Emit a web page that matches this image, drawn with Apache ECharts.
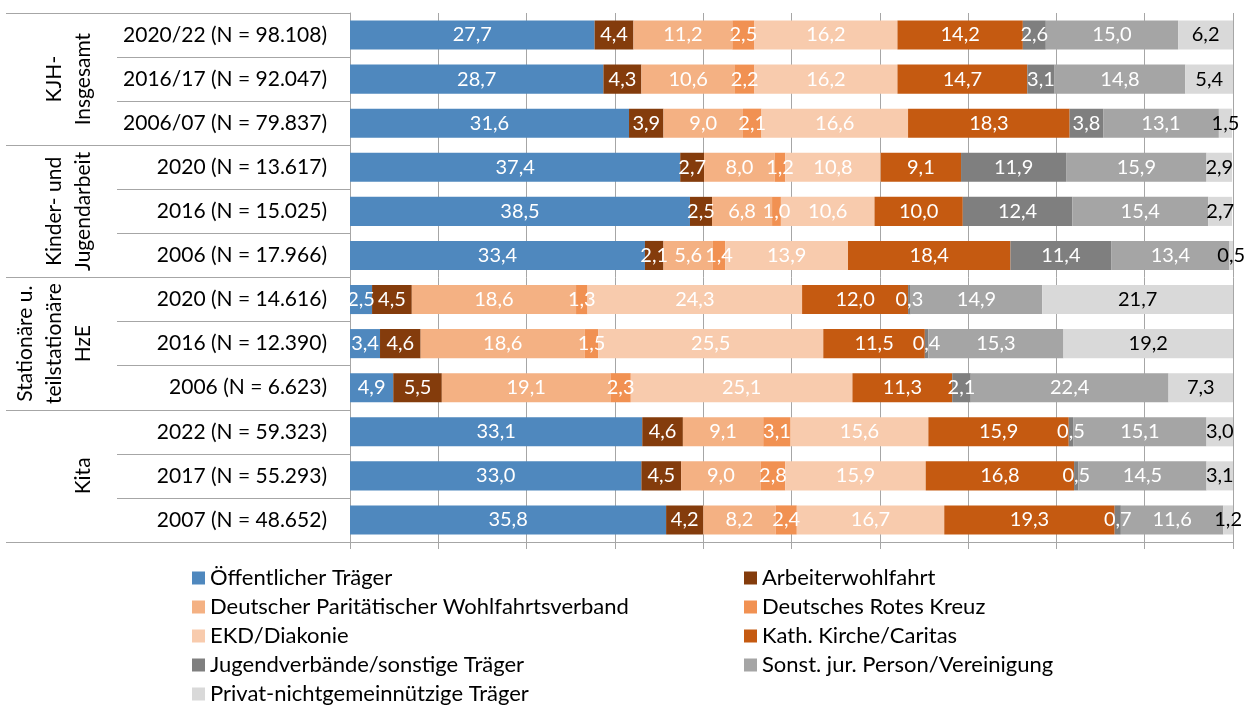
<!DOCTYPE html>
<html>
<head>
<meta charset="utf-8">
<script src="https://cdn.jsdelivr.net/npm/echarts@6/dist/echarts.min.js"></script>
<style>
  html, body { margin: 0; padding: 0; background: #fff; }
  #chart { width: 1251px; height: 711px; }
</style>
</head>
<body>
<div id="chart"></div>
<script>
// rows, top to bottom
const rowLabels = [
  "2020/22 (N = 98.108)", "2016/17 (N = 92.047)", "2006/07 (N = 79.837)",
  "2020 (N = 13.617)", "2016 (N = 15.025)", "2006 (N = 17.966)",
  "2020 (N = 14.616)", "2016 (N = 12.390)", "2006 (N = 6.623)",
  "2022 (N = 59.323)", "2017 (N = 55.293)", "2007 (N = 48.652)"
];
const groupLabels = ["KJH-\nInsgesamt", "Kinder- und\nJugendarbeit", "Stationäre u.\nteilstationäre\nHzE", "Kita"];

const seriesNames = [
  "Öffentlicher Träger", "Arbeiterwohlfahrt", "Deutscher Paritätischer Wohlfahrtsverband",
  "Deutsches Rotes Kreuz", "EKD/Diakonie", "Kath. Kirche/Caritas",
  "Jugendverbände/sonstige Träger", "Sonst. jur. Person/Vereinigung", "Privat-nichtgemeinnützige Träger"
];
const seriesColors = ["#4F88BE", "#843C0C", "#F4B183", "#F19152", "#F8CBAD", "#C55A11", "#7F7F7F", "#A5A5A5", "#D9D9D9"];

// values in %
const oeffentlich = [27.7, 28.7, 31.6, 37.4, 38.5, 33.4, 2.5, 3.4, 4.9, 33.1, 33.0, 35.8];
const awo         = [4.4, 4.3, 3.9, 2.7, 2.5, 2.1, 4.5, 4.6, 5.5, 4.6, 4.5, 4.2];
const paritaet    = [11.2, 10.6, 9.0, 8.0, 6.8, 5.6, 18.6, 18.6, 19.1, 9.1, 9.0, 8.2];
const drk         = [2.5, 2.2, 2.1, 1.2, 1.0, 1.4, 1.3, 1.5, 2.3, 3.1, 2.8, 2.4];
const diakonie    = [16.2, 16.2, 16.6, 10.8, 10.6, 13.9, 24.3, 25.5, 25.1, 15.6, 15.9, 16.7];
const caritas     = [14.2, 14.7, 18.3, 9.1, 10.0, 18.4, 12.0, 11.5, 11.3, 15.9, 16.8, 19.3];
const jugendverb  = [2.6, 3.1, 3.8, 11.9, 12.4, 11.4, 0.3, 0.4, 2.1, 0.5, 0.5, 0.7];
const sonstJur    = [15.0, 14.8, 13.1, 15.9, 15.4, 13.4, 14.9, 15.3, 22.4, 15.1, 14.5, 11.6];
const privat      = [6.2, 5.4, 1.5, 2.9, 2.7, 0.5, 21.7, 19.2, 7.3, 3.0, 3.1, 1.2];

const seriesValues = [oeffentlich, awo, paritaet, drk, diakonie, caritas, jugendverb, sonstJur, privat];

const lineGray = "#A6A6A6";
const fmt = p => p.value.toFixed(1).replace(".", ",");

const chart = echarts.init(document.getElementById("chart"));

const series = seriesNames.map((name, i) => ({
  name: name,
  type: "bar",
  stack: "total",
  barCategoryGap: "34%",
  itemStyle: { color: seriesColors[i] },
  label: {
    show: true,
    position: "inside",
    color: i === seriesNames.length - 1 ? "#000" : "#fff",
    fontSize: 20,
    formatter: fmt
  },
  data: seriesValues[i]
}));

const legendBase = {
  orient: "vertical",
  top: 566,
  padding: 0,
  icon: "rect",
  itemWidth: 13,
  itemHeight: 13,
  itemGap: 5,
  textStyle: { fontSize: 22, lineHeight: 24, color: "#000" }
};

const option = {
  animation: false,
  textStyle: { fontFamily: "Lato" },
  grid: { left: 350, right: 18, top: 13, bottom: 169 },
  xAxis: {
    type: "value",
    min: 0,
    max: 100,
    interval: 10,
    axisLabel: { show: false },
    axisLine: { show: true, lineStyle: { color: lineGray } },
    axisTick: { show: true, length: 7, lineStyle: { color: lineGray } },
    splitLine: { show: true, lineStyle: { color: lineGray } }
  },
  yAxis: [
    {
      type: "category",
      data: rowLabels,
      inverse: true,
      axisLine: { show: true, lineStyle: { color: lineGray } },
      axisTick: { show: true, length: 233, interval: 0, lineStyle: { color: lineGray } },
      axisLabel: { interval: 0, margin: 23, fontSize: 21, color: "#000" }
    },
    {
      type: "category",
      data: groupLabels,
      inverse: true,
      position: "left",
      axisLine: { show: false },
      axisTick: { show: true, length: 344, interval: 0, lineStyle: { color: lineGray } },
      axisLabel: { interval: 0, rotate: 90, margin: 252, fontSize: 21, lineHeight: 29, color: "#000" }
    }
  ],
  legend: [
    Object.assign({}, legendBase, {
      left: 192,
      data: [seriesNames[0], seriesNames[2], seriesNames[4], seriesNames[6], seriesNames[8]]
    }),
    Object.assign({}, legendBase, {
      left: 744,
      data: [seriesNames[1], seriesNames[3], seriesNames[5], seriesNames[7]]
    })
  ],
  series: series
};

chart.setOption(option);
window.addEventListener("resize", () => chart.resize());
</script>
</body>
</html>
